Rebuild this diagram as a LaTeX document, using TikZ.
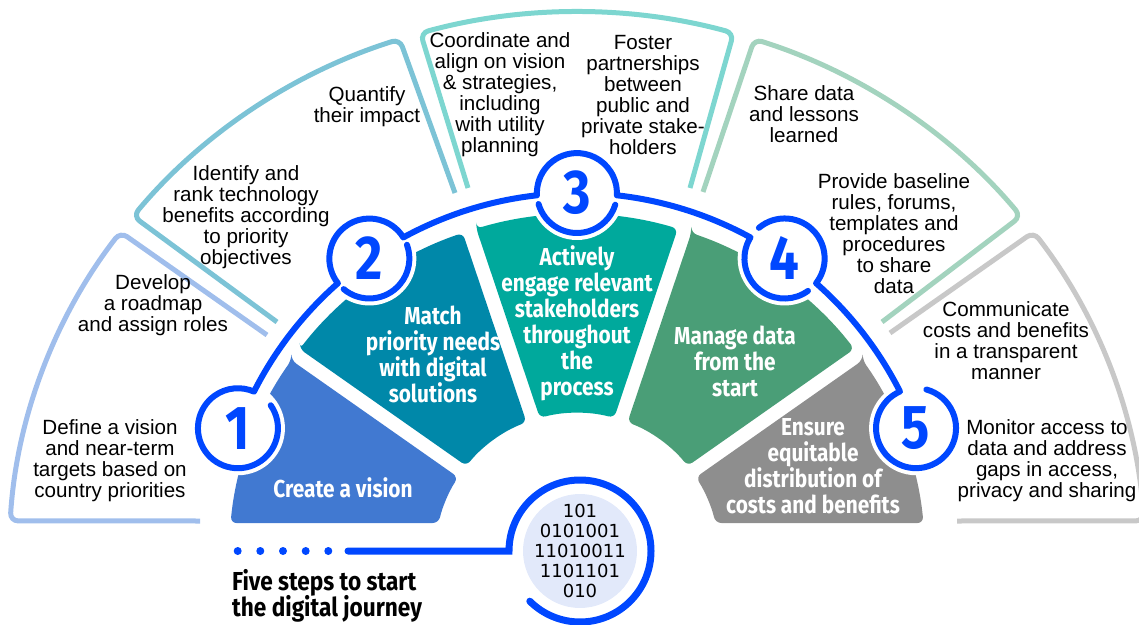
\documentclass[tikz,border=0pt]{standalone}
\usepackage{fontspec}
\setmainfont{Liberation Sans}
\newfontfamily\condfont[FakeStretch=0.85]{Fira Sans}
\newfontfamily\titlefont[FakeStretch=0.87]{Fira Sans}
\newfontfamily\numfont[FakeStretch=0.85]{Fira Sans}
\newfontfamily\binfont{DejaVu Sans}
\definecolor{mainblue}{RGB}{0,71,255}
\definecolor{wA}{RGB}{65,121,209}
\definecolor{wB}{RGB}{0,136,169}
\definecolor{wC}{RGB}{0,169,156}
\definecolor{wD}{RGB}{74,158,119}
\definecolor{wE}{RGB}{142,142,142}
\definecolor{pA}{RGB}{160,190,236}
\definecolor{pB}{RGB}{124,195,214}
\definecolor{pC}{RGB}{125,214,208}
\definecolor{pD}{RGB}{163,211,190}
\definecolor{pE}{RGB}{200,200,200}
\definecolor{binfill}{RGB}{226,233,250}
\begin{document}
\begin{tikzpicture}[x=1pt,y=1pt,
  paneltext/.style={align=center, font=\fontsize{20.6}{21}\selectfont, text=black, inner sep=0pt},
  wedgetext/.style={align=center, font=\condfont\bfseries\fontsize{24.5}{26}\selectfont, text=white, inner sep=0pt},
  numtext/.style={font=\numfont\bfseries\fontsize{62}{62}\selectfont, text=mainblue, inner sep=0pt},
  paneledge/.style={line width=5pt, rounded corners=8pt},
  wedgefill/.style={rounded corners=6pt},
  mainline/.style={draw=mainblue, line width=6pt, line cap=round, line join=round},
  halo/.style={fill=white},
  dotstyle/.style={fill=mainblue},
]
\useasboundingbox (0,0) rectangle (1139,624);
\clip (0,0) rectangle (1139,624);

\begin{scope}[shift={(577,69)}]
% outer panels
\draw[paneledge, draw=pA] (-310,220) -- (143.5:568 and 543) arc[start angle=143.5, end angle=176.4, x radius=568, y radius=543] -- (-377,34);
\draw[paneledge, draw=pB] (-300,233) -- (141.4:568 and 543) arc[start angle=141.4, end angle=108.2, x radius=568, y radius=543] -- (-122,362);
\draw[paneledge, draw=pC] (-109,367) -- (106:568 and 543) arc[start angle=106, end angle=74, x radius=568, y radius=543] -- (113,367);
\draw[paneledge, draw=pD] (126,363) -- (71.8:568 and 543) arc[start angle=71.8, end angle=38.6, x radius=568, y radius=543] -- (305,233);
\draw[paneledge, draw=pE] (313,222) -- (36.5:568 and 543) arc[start angle=36.5, end angle=3.6, x radius=568, y radius=543] -- (380,34);

% inner wedges
\fill[wedgefill, fill=wA] (145.17:348 and 341) -- (146.83:142) arc[start angle=146.83, end angle=166.98, radius=142] -- (174.62:348 and 341) arc[start angle=174.62, end angle=145.17, x radius=348, y radius=341] -- cycle;
\fill[wedgefill, fill=wB] (142.83:348 and 341) -- (141.17:142) arc[start angle=141.17, end angle=110.83, radius=142] -- (109.17:348 and 341) arc[start angle=109.17, end angle=142.83, x radius=348, y radius=341] -- cycle;
\fill[wedgefill, fill=wC] (106.83:348 and 341) -- (105.17:142) arc[start angle=105.17, end angle=74.83, radius=142] -- (73.17:348 and 341) arc[start angle=73.17, end angle=106.83, x radius=348, y radius=341] -- cycle;
\fill[wedgefill, fill=wD] (70.83:348 and 341) -- (69.17:142) arc[start angle=69.17, end angle=38.83, radius=142] -- (37.17:348 and 341) arc[start angle=37.17, end angle=70.83, x radius=348, y radius=341] -- cycle;
\fill[wedgefill, fill=wE] (34.83:348 and 341) -- (33.17:142) arc[start angle=33.17, end angle=13.02, radius=142] -- (5.38:348 and 341) arc[start angle=5.38, end angle=34.83, x radius=348, y radius=341] -- cycle;

% white halos under the numbered rings
\foreach \a in {159.5,125,90,55,20.5} \fill[halo] (\a:362) circle[radius=47];

% the main blue line with its rings
\draw[mainline] (159.5:362) ++(35:40) arc[start angle=35, end angle=-293.67, radius=40]
  arc[start angle=153.16, end angle=131.34, radius=362]
  arc[start angle=218.17, end angle=31.83, radius=40]
  arc[start angle=118.66, end angle=96.34, radius=362]
  arc[start angle=183.17, end angle=-3.17, radius=40]
  arc[start angle=83.66, end angle=61.34, radius=362]
  arc[start angle=148.17, end angle=306, radius=40];
\draw[mainline] (55:362) ++(130:40) arc[start angle=130, end angle=-38.17, radius=40]
  arc[start angle=48.66, end angle=26.84, radius=362]
  arc[start angle=113.67, end angle=435, radius=40];
\draw[mainline] (125:362) ++(230:40) arc[start angle=230, end angle=380, radius=40];
\draw[mainline] (90:362) ++(196:40) arc[start angle=196, end angle=343, radius=40];

% numbers
\node[numtext] (n1) at (159.5:362) {1};
\node[numtext] (n2) at (125:362) {2};
\node[numtext] (n3) at (90:362) {3};
\node[numtext] (n4) at (55:362) {4};
\node[numtext] (n5) at (20.5:362) {5};

% binary disk
\fill[binfill] (3,4) circle[radius=57];
\node[font=\binfont\fontsize{18}{20}\selectfont, align=center, inner sep=0pt] (bin) at (3,4) {101\\0101001\\11010011\\1101101\\010};
\coordinate (lineStart) at (-229,4);
\draw[draw=mainblue, line width=7pt, line cap=round] (lineStart) -- (-68,4) arc[start angle=180, end angle=-135, radius=71];
\foreach \x in {-339.3,-316.7,-294,-271.3,-248.7} \fill[dotstyle] (\x,4) circle[radius=4];
\end{scope}

% wedge labels
\node[wedgetext] (t1) at (343,136) {Create a vision};
\node[wedgetext] (t2) at (433,270) {Match\\priority needs\\with digital\\solutions};
\node[wedgetext] (t3) at (577,301) {Actively\\engage relevant\\stakeholders\\throughout\\the\\process};
\node[wedgetext] (t4) at (735,263) {Manage data\\from the\\start};
\node[wedgetext] (t5) at (813,158) {Ensure\\equitable\\distribution of\\costs and benefits};

% panel texts
\node[paneltext] (a1) at (153,319) {Develop\\a roadmap\\and assign roles};
\node[paneltext] (a2) at (110,163) {Define a vision\\and near-term\\targets based on\\country priorities};
\node[paneltext] (b1) at (246,407) {Identify and\\rank technology\\benefits according\\to priority\\objectives};
\node[paneltext] (b2) at (367,517) {Quantify\\their impact};
\node[paneltext] (c1) at (500,529) {Coordinate and\\align on vision\\\& strategies,\\including\\with utility\\planning};
\node[paneltext] (c2) at (643,529) {Foster\\partnerships\\between\\public and\\private stake-\\holders};
\node[paneltext] (d1) at (804,510) {Share data\\and lessons\\learned};
\node[paneltext] (d2) at (894,390) {Provide baseline\\rules, forums,\\templates and\\procedures\\to share\\data};
\node[paneltext] (e1) at (1006,283) {Communicate\\costs and benefits\\in a transparent\\manner};
\node[paneltext] (e2) at (1047,163) {Monitor access to\\data and address\\gaps in access,\\privacy and sharing};

% title
\node[anchor=base west, inner sep=0pt, font=\titlefont\bfseries\fontsize{26}{27}\selectfont] (title1) at (232,34) {Five steps to start};
\node[anchor=base west, inner sep=0pt, font=\titlefont\bfseries\fontsize{26}{27}\selectfont] (title2) at (232,8) {the digital journey};
\end{tikzpicture}
\end{document}
